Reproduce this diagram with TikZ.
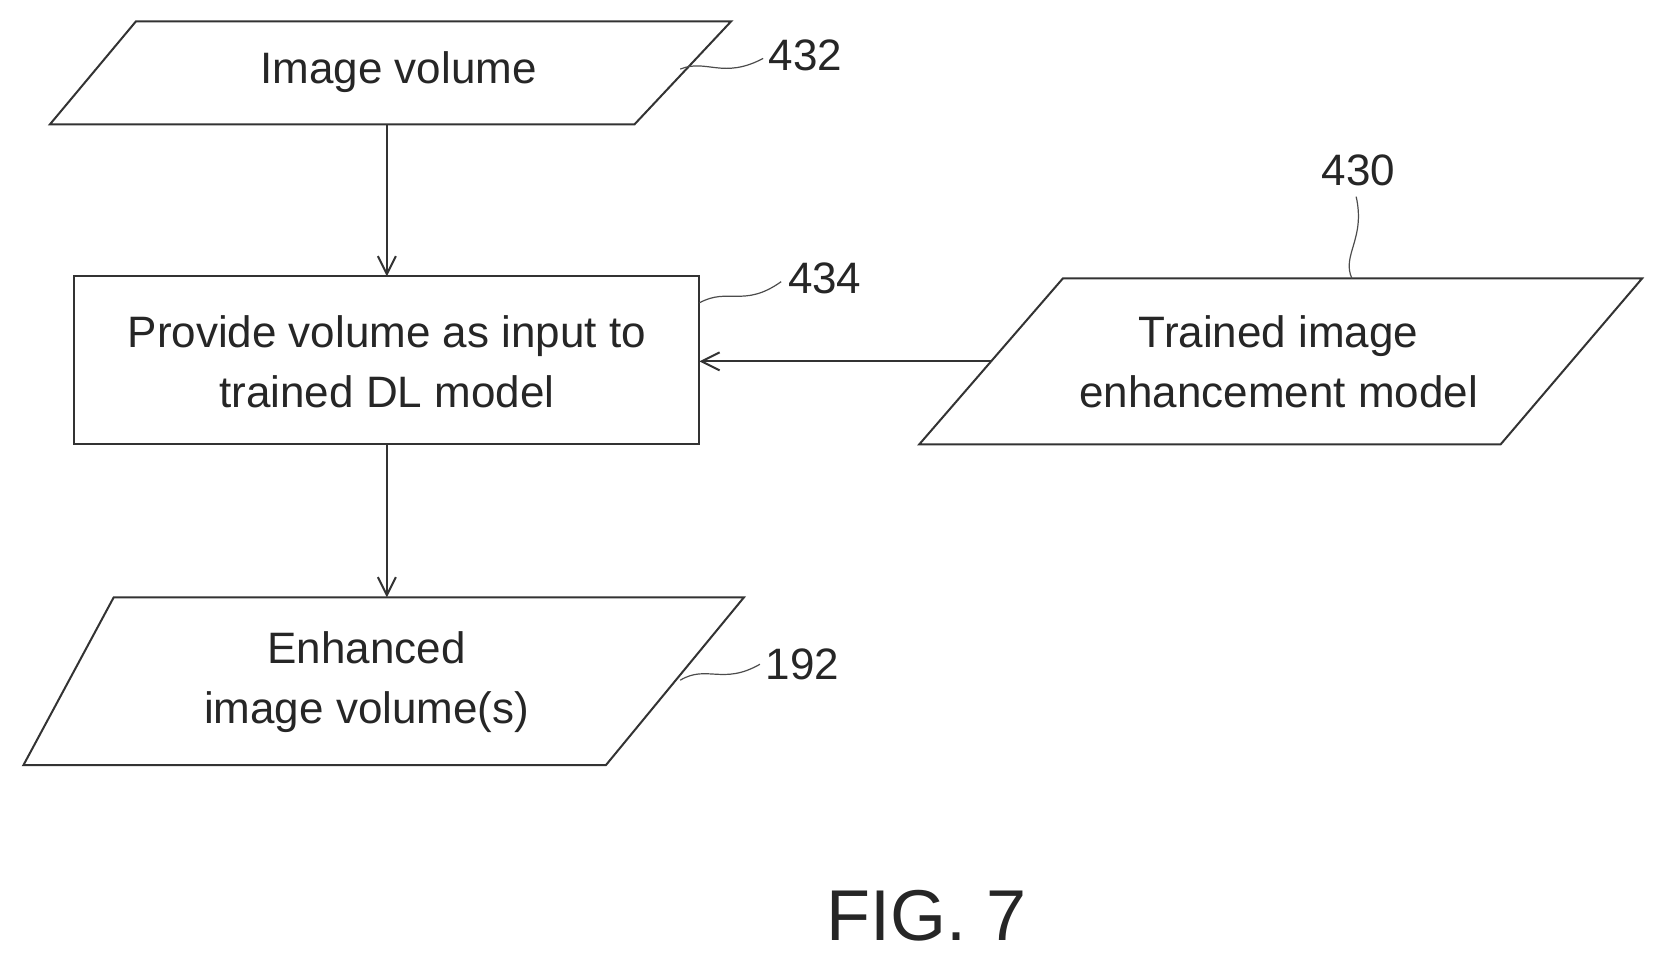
\documentclass[tikz,border=0pt]{standalone}
\usepackage{fontspec}
\setmainfont{Liberation Sans}
\usetikzlibrary{arrows.meta}
\begin{document}
\begin{tikzpicture}[x=1.063pt,y=-1.063pt,
  box/.style={draw=black!80,line width=2pt,line join=miter},
  txt/.style={font=\fontsize{44}{60}\selectfont,align=center,text=black!85},
  lbl/.style={font=\fontsize{44}{50}\selectfont,text=black!85},
  arr/.style={draw=black!80,line width=2pt,-{Straight Barb[length=18pt,width=18pt]}},
  lead/.style={draw=black!70,line width=1.2pt}]
\useasboundingbox (0,0) rectangle (1560,902);
% shapes
\draw[box] (128,20) -- (688,20) -- (597,117) -- (47,117) -- cycle;
\node[txt] (iv) at (375,68) {Image volume};
\draw[box] (70,260) rectangle (658,418);
\node[txt] (pv) at (364,340) {Provide volume as input to\\trained DL model};
\draw[box] (1000,262) -- (1545,262) -- (1412,418) -- (865,418) -- cycle;
\node[txt] (tm) at (1203,340) {Trained image\\enhancement model};
\draw[box] (107,562) -- (700,562) -- (570,720) -- (22,720) -- cycle;
\node[txt] (ev) at (345,642) {Enhanced\\image volume(s)};
% connectors
\coordinate (a1) at (364,117); \coordinate (a2) at (364,260);
\coordinate (b1) at (364,418); \coordinate (b2) at (364,562);
\coordinate (c1) at (933,340); \coordinate (c2) at (658,340);
\draw[arr] (a1) -- (a2);
\draw[arr] (b1) -- (b2);
\draw[arr] (c1) -- (c2);
% reference labels
\node[lbl] (l432) at (758,52) {432};
\draw[lead] (640,65) .. controls (665,55) and (680,75) .. (718,55);
\node[lbl] (l434) at (776,262) {434};
\draw[lead] (658,285) .. controls (685,270) and (700,290) .. (735,265);
\node[lbl] (l430) at (1278,160) {430};
\draw[lead] (1272,262) .. controls (1262,240) and (1285,225) .. (1276,185);
\node[lbl] (l192) at (755,625) {192};
\draw[lead] (640,640) .. controls (665,625) and (680,645) .. (715,625);
\node[font=\fontsize{72}{76}\selectfont,text=black!85] (fig) at (872,862) {FIG. 7};
\end{tikzpicture}
\end{document}
